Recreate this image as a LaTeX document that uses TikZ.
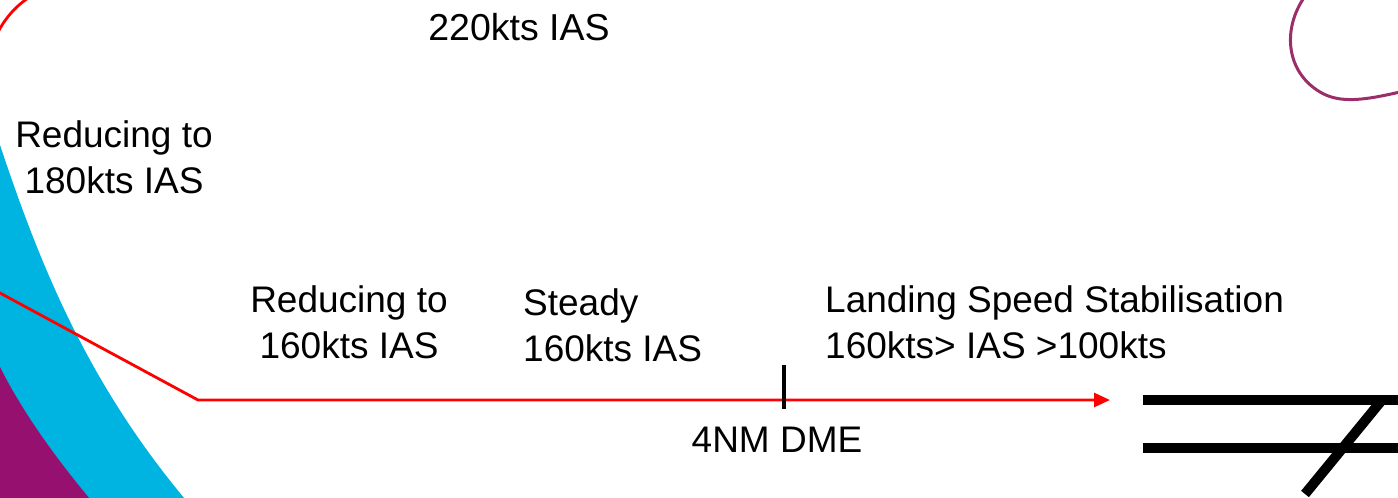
\documentclass[tikz,border=0pt]{standalone}
\usepackage{fontspec}
\setmainfont{Liberation Sans}
\usepackage{xcolor}
\definecolor{bandcyan}{RGB}{0,180,225}
\definecolor{bandpurple}{RGB}{150,16,112}
\definecolor{ringplum}{RGB}{155,45,105}
\usetikzlibrary{arrows.meta}

\begin{document}
\begin{tikzpicture}[x=1pt, y=-1pt,
  speed/.style={inner sep=0pt, font=\fontsize{37}{46}\selectfont, align=center},
  speedleft/.style={speed, align=left, anchor=west},
  approach/.style={draw=red, line width=2.8pt, -{Triangle[length=16pt, width=14pt]}},
  runway/.style={draw=black, line width=10pt},
  fixmark/.style={draw=black, line width=4.5pt}
]
\useasboundingbox (0, 0) rectangle (1398, 498);
\clip (0, 0) rectangle (1398, 498);

% Background
\fill[bandcyan] (0, 145) .. controls (40, 265) and (88, 385) .. (190, 505) -- (-5, 505) -- (-5, 145) -- cycle;
\fill[bandpurple] (0, 367) .. controls (23, 413) and (57, 460) .. (95, 505) -- (-5, 505) -- (-5, 367) -- cycle;
\draw[red, line width=2.8pt] (-6.5, 42.5) arc[start angle=160, end angle=110, radius=92pt];
\draw[ringplum, line width=3pt] (1310, -10) .. controls (1282, 22) and (1283, 70) .. (1320, 92)
  .. controls (1340, 104) and (1365, 100) .. (1400, 92);

% Speeds
\node[speed, font=\fontsize{37.5}{46}\selectfont] (s220) at (519, 27) {220kts IAS};
\node[speed] (s180) at (114, 157) {Reducing to\\180kts IAS};
\node[speed] (s160) at (349, 322) {Reducing to\\160kts IAS};
\node[speedleft] (steady) at (523, 325) {Steady\\160kts IAS};
\node[speedleft] (landing) at (825, 322) {Landing Speed Stabilisation\\160kts> IAS >100kts};
\node[speed] (dme) at (777, 440) {4NM DME};

% Approach path
\coordinate (entry) at (-10, 287.6);
\coordinate (turn) at (198, 400);
\coordinate (thr) at (1110, 400);
\draw[approach] (entry) -- (turn) -- (thr);
\draw[fixmark] (784, 365) -- (784, 409);

% Runway
\draw[runway] (1143, 400) -- (1405, 400);
\draw[runway] (1143, 448) -- (1405, 448);
\draw[runway] (1305, 494) -- (1382, 400);

\end{tikzpicture}
\end{document}
